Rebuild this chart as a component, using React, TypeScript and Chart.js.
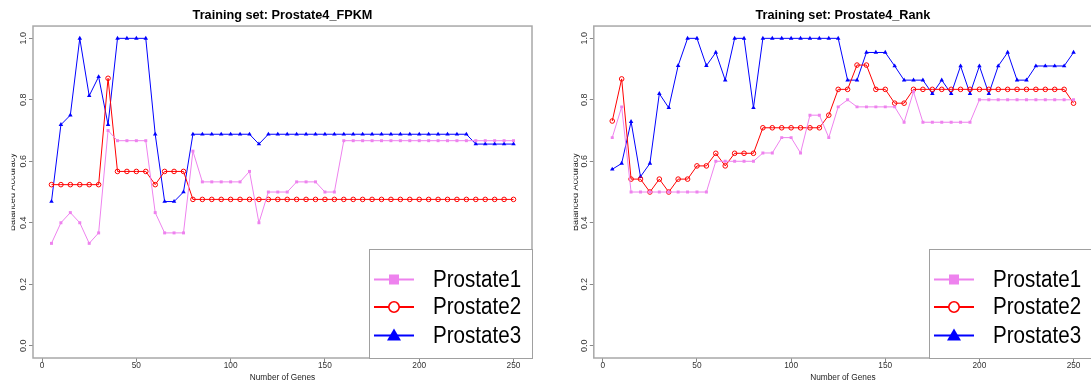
import React, { useEffect, useRef } from 'react';
import { Chart, registerables } from 'chart.js';

Chart.register(...registerables);

const genes = [
  5, 10, 15, 20, 25, 30, 35, 40, 45, 50,
  55, 60, 65, 70, 75, 80, 85, 90, 95, 100,
  105, 110, 115, 120, 125, 130, 135, 140, 145, 150,
  155, 160, 165, 170, 175, 180, 185, 190, 195, 200,
  205, 210, 215, 220, 225, 230, 235, 240, 245, 250,
];

const seriesNames = ['Prostate1', 'Prostate2', 'Prostate3'];
const xTicks = [0, 50, 100, 150, 200, 250];
const yTicks = [0, 0.2, 0.4, 0.6, 0.8, 1.0];

// Training set: Prostate4_FPKM
const fpkmProstate1 = [
  0.333, 0.4, 0.433, 0.4, 0.333, 0.367, 0.7, 0.667, 0.667, 0.667,
  0.667, 0.433, 0.367, 0.367, 0.367, 0.633, 0.533, 0.533, 0.533, 0.533,
  0.533, 0.567, 0.4, 0.5, 0.5, 0.5, 0.533, 0.533, 0.533, 0.5,
  0.5, 0.667, 0.667, 0.667, 0.667, 0.667, 0.667, 0.667, 0.667, 0.667,
  0.667, 0.667, 0.667, 0.667, 0.667, 0.667, 0.667, 0.667, 0.667, 0.667,
];
const fpkmProstate2 = [
  0.524, 0.524, 0.524, 0.524, 0.524, 0.524, 0.87, 0.567, 0.567, 0.567,
  0.567, 0.524, 0.567, 0.567, 0.567, 0.476, 0.476, 0.476, 0.476, 0.476,
  0.476, 0.476, 0.476, 0.476, 0.476, 0.476, 0.476, 0.476, 0.476, 0.476,
  0.476, 0.476, 0.476, 0.476, 0.476, 0.476, 0.476, 0.476, 0.476, 0.476,
  0.476, 0.476, 0.476, 0.476, 0.476, 0.476, 0.476, 0.476, 0.476, 0.476,
];
const fpkmProstate3 = [
  0.469, 0.719, 0.75, 1.0, 0.813, 0.875, 0.719, 1.0, 1.0, 1.0,
  1.0, 0.688, 0.469, 0.469, 0.5, 0.688, 0.688, 0.688, 0.688, 0.688,
  0.688, 0.688, 0.656, 0.688, 0.688, 0.688, 0.688, 0.688, 0.688, 0.688,
  0.688, 0.688, 0.688, 0.688, 0.688, 0.688, 0.688, 0.688, 0.688, 0.688,
  0.688, 0.688, 0.688, 0.688, 0.688, 0.656, 0.656, 0.656, 0.656, 0.656,
];

// Training set: Prostate4_Rank
const rankProstate1 = [
  0.677, 0.777, 0.5, 0.5, 0.5, 0.5, 0.5, 0.5, 0.5, 0.5,
  0.5, 0.6, 0.6, 0.6, 0.6, 0.6, 0.627, 0.627, 0.677, 0.677,
  0.627, 0.75, 0.75, 0.677, 0.777, 0.8, 0.777, 0.777, 0.777, 0.777,
  0.777, 0.727, 0.826, 0.727, 0.727, 0.727, 0.727, 0.727, 0.727, 0.8,
  0.8, 0.8, 0.8, 0.8, 0.8, 0.8, 0.8, 0.8, 0.8, 0.8,
];
const rankProstate2 = [
  0.731, 0.868, 0.542, 0.542, 0.5, 0.542, 0.5, 0.542, 0.542, 0.585,
  0.585, 0.626, 0.585, 0.626, 0.626, 0.626, 0.709, 0.709, 0.709, 0.709,
  0.709, 0.709, 0.709, 0.75, 0.834, 0.834, 0.913, 0.913, 0.834, 0.834,
  0.789, 0.789, 0.834, 0.834, 0.834, 0.834, 0.834, 0.834, 0.834, 0.834,
  0.834, 0.834, 0.834, 0.834, 0.834, 0.834, 0.834, 0.834, 0.834, 0.789,
];
const rankProstate3 = [
  0.574, 0.593, 0.729, 0.55, 0.593, 0.82, 0.774, 0.911, 1.0, 1.0,
  0.911, 0.954, 0.864, 1.0, 1.0, 0.774, 1.0, 1.0, 1.0, 1.0,
  1.0, 1.0, 1.0, 1.0, 1.0, 0.864, 0.864, 0.954, 0.954, 0.954,
  0.91, 0.864, 0.864, 0.864, 0.82, 0.864, 0.82, 0.91, 0.82, 0.91,
  0.82, 0.91, 0.954, 0.864, 0.864, 0.91, 0.91, 0.91, 0.91, 0.954,
];

const FONT = "'Liberation Sans', Arial, Helvetica, sans-serif";
const COLORS = ['#EE82EE', '#FF0000', '#0000FF'];
const STYLES = ['rect', 'circle', 'triangle'];

type Panel = {
  title: string;
  values: number[][];
  left: number;
  width: number;
  chartLeft: number;
  chartRight: number;
  yTitleBase: number;
  yTitleClip: number;
  yTickPad: number;
};

const panels: Panel[] = [
  {
    title: 'Training set: Prostate4_FPKM',
    values: [fpkmProstate1, fpkmProstate2, fpkmProstate3],
    left: 0,
    width: 545,
    chartLeft: 33,
    chartRight: 532,
    yTitleBase: 15,
    yTitleClip: 11.6,
    yTickPad: -0.8,
  },
  {
    title: 'Training set: Prostate4_Rank',
    values: [rankProstate1, rankProstate2, rankProstate3],
    left: 545,
    width: 552,
    chartLeft: 48.8,
    chartRight: 549.7,
    yTitleBase: 33.2,
    yTitleClip: 28.8,
    yTickPad: -1.2,
  },
];

const H = 383;

function drawMarker(ctx: CanvasRenderingContext2D, style: string, x: number, y: number, color: string) {
  ctx.save();
  if (style === 'rect') {
    ctx.fillStyle = color;
    ctx.fillRect(x - 5, y - 5, 10, 10);
  } else if (style === 'circle') {
    ctx.strokeStyle = color;
    ctx.lineWidth = 1.6;
    ctx.fillStyle = '#ffffff';
    ctx.beginPath();
    ctx.arc(x, y, 5.2, 0, Math.PI * 2);
    ctx.fill();
    ctx.stroke();
  } else {
    ctx.fillStyle = color;
    ctx.beginPath();
    ctx.moveTo(x, y - 7);
    ctx.lineTo(x + 7, y + 5);
    ctx.lineTo(x - 7, y + 5);
    ctx.closePath();
    ctx.fill();
  }
  ctx.restore();
}

function makePlugins(panel: Panel) {
  const frame = {
    id: 'rframe',
    afterDraw(chart: any) {
      const { ctx, chartArea: a } = chart;
      ctx.save();
      ctx.strokeStyle = '#a8a8a8';
      ctx.lineWidth = 1.5;
      ctx.strokeRect(a.left, a.top, a.right - a.left, a.bottom - a.top);
      ctx.restore();
    },
  };
  const legendBox = {
    id: 'rlegend',
    afterDraw(chart: any) {
      const { ctx, chartArea: a } = chart;
      const bl = a.right - 163;
      const bt = 249;
      ctx.save();
      ctx.fillStyle = '#ffffff';
      ctx.fillRect(bl, bt, a.right - bl, a.bottom - bt);
      ctx.strokeStyle = '#a0a0a0';
      ctx.lineWidth = 1;
      ctx.strokeRect(bl + 0.5, bt + 0.5, a.right - bl, a.bottom - bt);
      const rows = [bt + 30.5, bt + 58, bt + 86.5];
      seriesNames.forEach((name, i) => {
        const y = rows[i];
        ctx.strokeStyle = COLORS[i];
        ctx.lineWidth = 1.8;
        ctx.beginPath();
        ctx.moveTo(bl + 5, y);
        ctx.lineTo(bl + 45, y);
        ctx.stroke();
        drawMarker(ctx, STYLES[i], bl + 25, y, COLORS[i]);
        ctx.save();
        ctx.translate(bl + 64, y + 1);
        ctx.scale(1, 1.13);
        ctx.fillStyle = '#000000';
        ctx.font = `20.6px ${FONT}`;
        ctx.textAlign = 'left';
        ctx.textBaseline = 'middle';
        ctx.fillText(name, 0, 0);
        ctx.restore();
      });
      ctx.restore();
    },
  };
  const yTitle = {
    id: 'rytitle',
    afterDraw(chart: any) {
      const { ctx, chartArea: a } = chart;
      ctx.save();
      ctx.beginPath();
      ctx.rect(panel.yTitleClip, 0, 60, chart.height);
      ctx.clip();
      ctx.translate(panel.yTitleBase, (a.top + a.bottom) / 2);
      ctx.rotate(-Math.PI / 2);
      ctx.fillStyle = '#222222';
      ctx.font = `9.1px ${FONT}`;
      ctx.textAlign = 'center';
      ctx.textBaseline = 'alphabetic';
      ctx.fillText('Balanced Accuracy', 0, 0);
      ctx.restore();
    },
  };
  return [frame, legendBox, yTitle];
}

function PanelChart({ panel }: { panel: Panel }) {
  const ref = useRef<HTMLCanvasElement | null>(null);
  useEffect(() => {
    if (!ref.current) return;
    const tickFont = { family: FONT, size: 8 };
    const chart = new Chart(ref.current, {
      type: 'line',
      data: {
        datasets: seriesNames.map((name, i) => ({
          label: name,
          data: genes.map((g, j) => ({ x: g, y: panel.values[i][j] })),
          borderColor: COLORS[i],
          backgroundColor: i === 1 ? 'rgba(255,255,255,0)' : COLORS[i],
          pointBorderColor: COLORS[i],
          pointBackgroundColor: i === 1 ? 'rgba(255,255,255,0)' : COLORS[i],
          pointStyle: STYLES[i] as any,
          pointRadius: i === 0 ? 2.1 : i === 1 ? 2.3 : 2.6,
          pointBorderWidth: i === 1 ? 1 : 0,
          borderWidth: 1,
          tension: 0,
          fill: false,
        })),
      },
      options: {
        responsive: false,
        animation: false,
        devicePixelRatio: 1,
        events: [],
        layout: {
          padding: { left: 0, right: panel.width - panel.chartRight, top: 0, bottom: 0 },
        },
        plugins: {
          legend: { display: false },
          tooltip: { enabled: false },
          title: {
            display: true,
            fullSize: false,
            text: panel.title,
            color: '#000000',
            font: { family: FONT, size: 12.7, weight: 'bold' },
            padding: { top: 7.9, bottom: 2.9 },
          },
        },
        scales: {
          x: {
            type: 'linear',
            min: -4.8,
            max: 259.8,
            afterBuildTicks: (s: any) => {
              s.ticks = xTicks.map((v) => ({ value: v }));
            },
            afterFit: (s: any) => {
              s.height = 25;
            },
            grid: { display: true, drawOnChartArea: false, drawTicks: true, tickLength: 4, color: '#888888' },
            border: { display: false },
            ticks: { font: { family: FONT, size: 8.3 }, color: '#333333', padding: -1.5, maxRotation: 0, autoSkip: false },
            title: { display: true, text: 'Number of Genes', color: '#222222', font: { family: FONT, size: 8.3 }, padding: { top: 0, bottom: 0.8 } },
          },
          y: {
            type: 'linear',
            min: -0.04,
            max: 1.04,
            afterBuildTicks: (s: any) => {
              s.ticks = yTicks.map((v) => ({ value: v }));
            },
            afterFit: (s: any) => {
              s.width = panel.chartLeft;
            },
            grid: { display: true, drawOnChartArea: false, drawTicks: true, tickLength: 4, color: '#888888' },
            border: { display: false },
            ticks: {
              font: { family: FONT, size: 9 },
              color: '#333333',
              padding: panel.yTickPad,
              minRotation: 90,
              maxRotation: 90,
              crossAlign: 'center',
              autoSkip: false,
              callback: (v: any) => Number(v).toFixed(1),
            },
          },
        },
      } as any,
      plugins: makePlugins(panel) as any,
    });
    return () => chart.destroy();
  }, [panel]);
  return (
    <canvas
      ref={ref}
      width={panel.width}
      height={H}
      style={{ position: 'absolute', left: panel.left, top: 0, width: panel.width, height: H }}
    />
  );
}

export default function App() {
  useEffect(() => {
    document.body.style.margin = '0';
    document.body.style.overflow = 'hidden';
  }, []);
  return (
    <div style={{ position: 'relative', width: 1091, height: H, overflow: 'hidden', background: '#ffffff' }}>
      {panels.map((p) => (
        <PanelChart key={p.title} panel={p} />
      ))}
    </div>
  );
}
